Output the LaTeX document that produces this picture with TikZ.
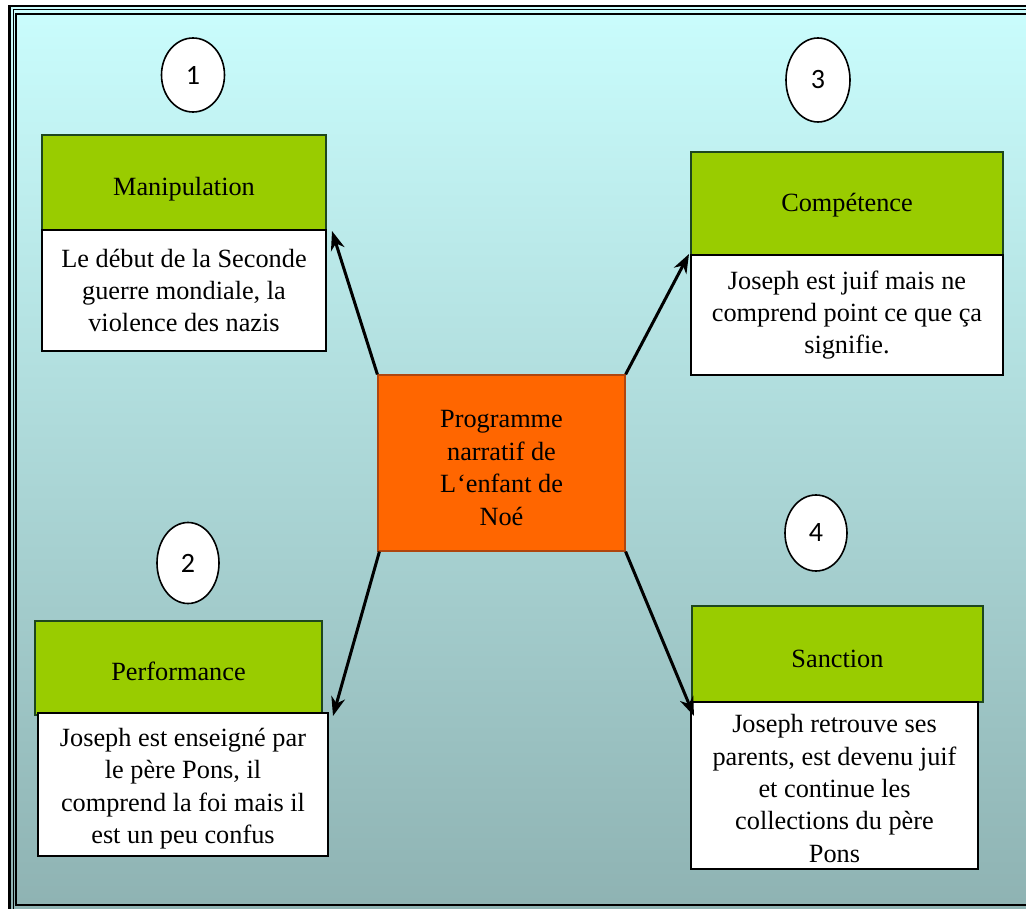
\documentclass[tikz,border=0pt]{standalone}
\usepackage{fontspec}
\setmainfont{Liberation Serif}
\newfontfamily\digitfont{Carlito}
\usetikzlibrary{arrows.meta,calc,shapes.geometric}

\definecolor{bgtop}{RGB}{202,253,253}
\definecolor{bgbot}{RGB}{142,178,178}
\definecolor{stagegreen}{RGB}{153,204,0}
\definecolor{greenedge}{RGB}{30,70,30}
\definecolor{coreorange}{RGB}{255,102,0}
\definecolor{orangeedge}{RGB}{175,70,15}

\begin{document}
\begin{tikzpicture}[x=1pt,y=-1pt,
  txt/.style={font=\fontsize{26.3}{32.4}\selectfont, align=center, inner sep=0pt},
  stagehead/.style={txt, fill=stagegreen, draw=greenedge, line width=1.5pt},
  stagebody/.style={txt, fill=white, draw=black, line width=2pt},
  core/.style={txt, fill=coreorange, draw=orangeedge, line width=1.2pt},
  marker/.style={ellipse, fill=white, draw=black, line width=1.6pt, inner sep=0pt,
                 font=\digitfont\fontsize{28}{30}\selectfont},
  link/.style={line width=3pt, -{Stealth[length=19pt,width=14pt,inset=6pt]}},
  % text placed in the box, lowered by the given amount
  lowtext/.style 2 args={label={[txt,yshift=-#1]center:{#2}}}
]
\useasboundingbox (0,0) rectangle (1026,909);

% page and framed background
\fill[white] (0,0) rectangle (1026,909);
\shade[top color=bgtop, bottom color=bgbot] (9.7,6.2) rectangle (1040,916);
\draw[line width=2.6pt] (9.7,6.2) rectangle (1040,916);
\draw[line width=1pt] (13.3,10) rectangle (1034,911);
\draw[line width=2.3pt] (16.2,13.7) rectangle (1028.5,904.7);

% central programme
\node[core, minimum width=247pt, minimum height=176pt,
      lowtext={5pt}{Programme\\narratif de\\L\kern1pt`enfant de\\Noé}] (prog) at (501.5,463) {};

% 1 - Manipulation
\node[stagehead, minimum width=284pt, minimum height=95pt,
      lowtext={7pt}{Manipulation}] (manHead) at (184,182.5) {};
\node[stagebody, minimum width=284pt, minimum height=121pt] (manBody) at (184,290.5)
  {Le début de la Seconde\\guerre mondiale, la\\violence des nazis};

% 3 - Compétence
\node[stagehead, minimum width=312pt, minimum height=103pt,
      lowtext={2pt}{Compétence}] (compHead) at (847,203.5) {};
\node[stagebody, minimum width=312pt, minimum height=120pt] (compBody) at (847,315)
  {Joseph est juif mais ne\\comprend point ce que ça\\signifie.};

% 2 - Performance
\node[stagehead, minimum width=287pt, minimum height=94pt,
      lowtext={3pt}{Performance}] (perfHead) at (178.5,668) {};
\node[stagebody, minimum width=290pt, minimum height=143pt,
      lowtext={4pt}{Joseph est enseigné par\\le père Pons, il\\comprend la foi mais il\\est un peu confus}]
  (perfBody) at (183,784.5) {};

% 4 - Sanction
\node[stagehead, minimum width=291pt, minimum height=96pt,
      lowtext={5pt}{Sanction}] (sanHead) at (837.5,654) {};
\node[stagebody, minimum width=287pt, minimum height=167pt,
      lowtext={3pt}{Joseph retrouve ses\\parents, est devenu juif\\et continue les\\collections du père\\Pons}]
  (sanBody) at (834.5,785.5) {};

% step numbers
\node[marker, minimum width=63pt, minimum height=74pt] (m1) at (193,75) {1};
\node[marker, minimum width=64pt, minimum height=84pt] (m3) at (818,80) {3};
\node[marker, minimum width=62pt, minimum height=81pt] (m2) at (188,563) {2};
\node[marker, minimum width=62pt, minimum height=76pt] (m4) at (816,533) {4};

% connectors
\draw[link] (prog.north west) -- ($(manBody.north east)+(5,2)$);
\draw[link] (prog.north east) -- ($(compBody.north west)+(-1,0)$);
\draw[link] ($(prog.south west)+(2,0)$) -- ($(perfBody.north east)+(4,4)$);
\draw[link] (prog.south east) -- ($(sanBody.north west)+(4,15)$);
\end{tikzpicture}
\end{document}
